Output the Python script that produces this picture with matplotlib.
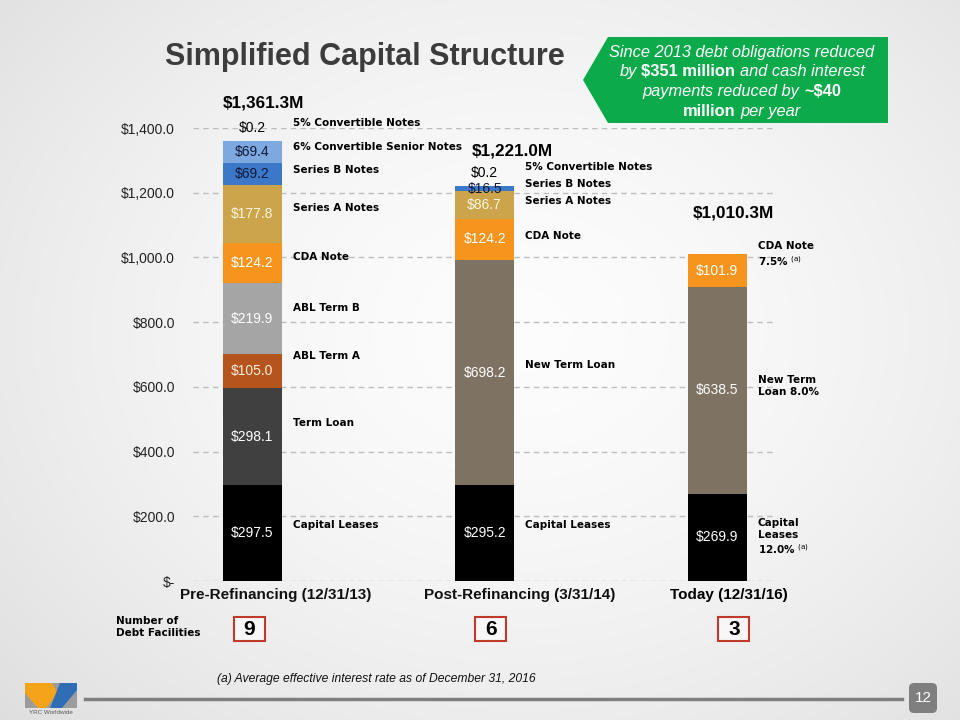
import numpy as np
import matplotlib
matplotlib.use("Agg")
import matplotlib.pyplot as plt
from matplotlib.patches import Polygon, FancyBboxPatch, Rectangle
from matplotlib.transforms import Affine2D

# ---------------- data ----------------
periods = ["Pre-Refinancing (12/31/13)", "Post-Refinancing (3/31/14)", "Today (12/31/16)"]
totals_text = ["$1,361.3M", "$1,221.0M", "$1,010.3M"]
facilities = ["9", "6", "3"]

segments = ["Capital Leases", "Term Loan", "ABL Term A", "ABL Term B", "New Term Loan",
            "CDA Note", "Series A Notes", "Series B Notes", "6% Convertible Senior Notes",
            "5% Convertible Notes"]
pre_values = [297.5, 298.1, 105.0, 219.9, 0.0, 124.2, 177.8, 69.2, 69.4, 0.2]
post_values = [295.2, 0.0, 0.0, 0.0, 698.2, 124.2, 86.7, 16.5, 0.0, 0.2]
today_values = [269.9, 0.0, 0.0, 0.0, 638.5, 101.9, 0.0, 0.0, 0.0, 0.0]

seg_colors = ["#000000", "#404040", "#B5541C", "#A5A5A5", "#7E7263",
              "#F7941E", "#CBA44B", "#3B78C8", "#7EA9E0", "#4472C4"]
label_colors = ["white", "white", "#FFF1E0", "white", "white",
                "white", "#FFF6DF", "#10183A", "#10183A", "black"]

side_labels_pre = ["5% Convertible Notes", "6% Convertible Senior Notes", "Series B Notes",
                   "Series A Notes", "CDA Note", "ABL Term B", "ABL Term A", "Term Loan",
                   "Capital Leases"]
side_labels_post = ["5% Convertible Notes", "Series B Notes", "Series A Notes", "CDA Note",
                    "New Term Loan", "Capital Leases"]
side_labels_today = ["CDA Note\n7.5% $^{\\mathrm{(a)}}$", "New Term\nLoan 8.0%",
                     "Capital\nLeases\n12.0% $^{\\mathrm{(a)}}$"]

yticks = [0, 200, 400, 600, 800, 1000, 1200, 1400]
ytick_labels = ["$-", "$200.0", "$400.0", "$600.0", "$800.0", "$1,000.0", "$1,200.0", "$1,400.0"]

# ---------------- layout (positions only) ----------------
side_y_pre = [1416, 1342, 1270, 1153, 1001, 844, 695, 488, 173]
side_y_post = [1280, 1227, 1175, 1066, 668, 173]
side_y_today = [1008, 603, 136]
total_dx = [0.047, 0.118, 0.068]
total_dy = [117, 108, 128]
cat_dx = [0.103, 0.152, 0.051]
fac_dx = [-0.013, 0.027, 0.072]

W, H = 960, 720
ARIAL = ["Liberation Sans", "DejaVu Sans"]
HEAVY = ["DejaVu Sans"]

fig = plt.figure(figsize=(9.6, 7.2), dpi=100)
px = Affine2D().scale(1 / W, -1 / H).translate(0, 1) + fig.transFigure

# background gradient
bg = fig.add_axes([0, 0, 1, 1], zorder=-10)
yy, xx = np.mgrid[0:H, 0:W]
d = np.sqrt(((xx - 520) / 640.0) ** 2 + ((yy - 330) / 520.0) ** 2)
shade = 0.99 - 0.10 * np.clip(d, 0, 1.3) ** 1.6
bg.imshow(np.dstack([shade] * 3), extent=[0, 1, 0, 1], aspect="auto", interpolation="bilinear")
bg.set_axis_off()

ax = fig.add_axes([193 / W, 1 - 581 / H, 580 / W, 453 / H])
ax.set_facecolor("none")
ax.set_xlim(-0.254, 2.24)
ax.set_ylim(0, 1400)
for s in ax.spines.values():
    s.set_visible(False)
ax.set_yticks(yticks)
ax.set_yticklabels(ytick_labels, family=ARIAL, fontsize=10, color="#222222")
ax.tick_params(axis="y", length=0, pad=13)
ax.set_xticks([])
ax.yaxis.grid(True, color="#BDBDBD", linestyle=(0, (4, 3)), linewidth=1.0)
ax.set_axisbelow(True)

all_values = [pre_values, post_values, today_values]
xs = np.arange(len(periods))
width = 0.254
for i, vals in enumerate(all_values):
    bottom = 0.0
    for j, v in enumerate(vals):
        if v <= 0:
            continue
        ax.bar(xs[i], v, width=width, bottom=bottom, color=seg_colors[j], zorder=3,
               edgecolor="none")
        lab = "$%.1f" % v
        if v < 5:
            ax.annotate(lab, (xs[i], bottom + v), xytext=(0, 4), textcoords="offset points",
                        ha="center", va="bottom", fontsize=10, family=ARIAL, color="black",
                        zorder=5)
        else:
            ax.text(xs[i], bottom + v / 2, lab, ha="center", va="center", fontsize=10,
                    family=ARIAL, color=label_colors[j], zorder=5)
        bottom += v
    ax.text(xs[i] + total_dx[i], sum(vals) + total_dy[i], totals_text[i], ha="center",
            va="center", fontsize=12.3, fontweight="bold", family=ARIAL, color="black")
    ax.text(xs[i] + cat_dx[i], -0.031, periods[i], transform=ax.get_xaxis_transform(),
            ha="center", va="center", fontsize=11, fontweight="bold", family=ARIAL,
            color="#111111" if i < 2 else "black")

fig.canvas.draw()
for i in range(len(periods)):
    cx = ax.transData.transform((xs[i] + fac_dx[i], 0))[0]
    fig.patches.append(Rectangle((cx - 15.5, 617), 31, 24, transform=px, facecolor="#F7F7F7",
                                 edgecolor="#C0392B", linewidth=1.5, zorder=2))
    fig.text(cx, 629.5, facilities[i], transform=px, ha="center", va="center", fontsize=15,
             fontweight="bold", family=ARIAL, color="black", zorder=3)

for i, (labs, ys) in enumerate([(side_labels_pre, side_y_pre), (side_labels_post, side_y_post),
                                (side_labels_today, side_y_today)]):
    for lab, y in zip(labs, ys):
        ax.text(xs[i] + 0.175, y, lab, ha="left", va="center", fontsize=7.5,
                fontweight="bold", family=HEAVY, color="black", linespacing=1.25, zorder=6)

# title
fig.text(365, 57, "Simplified Capital Structure", transform=px, ha="center", va="center",
         fontsize=22, fontweight="bold", family=ARIAL, color="#3C3C3C")

# green callout
callout = Polygon([(608, 37), (888, 37), (888, 123), (608, 123), (583, 80)], closed=True,
                  transform=px, facecolor="#0DAA4B", edgecolor="none", zorder=2)
fig.patches.append(callout)

renderer = fig.canvas.get_renderer()


def measure(s, weight, style, size):
    t = fig.text(0, 0, s, fontsize=size, fontweight=weight, fontstyle=style, family=ARIAL)
    w = t.get_window_extent(renderer).width
    t.remove()
    return w


def rich_line(xc, yc, runs, size, color):
    sp = measure("a a", "normal", "italic", size) - measure("aa", "normal", "italic", size)
    items = []
    for s, kind in runs:
        weight = "bold" if kind == "b" else "normal"
        style = "normal" if kind == "b" else "italic"
        t = fig.text(0, 0, s, transform=px, fontsize=size, fontweight=weight, fontstyle=style,
                     family=ARIAL, color=color, ha="left", va="center", zorder=3)
        items.append(t)
    widths = [t.get_window_extent(renderer).width for t in items]
    total = sum(widths) + sp * (len(items) - 1)
    x = xc - total / 2
    for t, wd in zip(items, widths):
        t.set_position((x, yc))
        x += wd + sp


callout_lines = [
    [("Since 2013 debt obligations reduced", "i")],
    [("by", "i"), ("$351 million", "b"), ("and cash interest", "i")],
    [("payments reduced by", "i"), ("~$40", "b")],
    [("million", "b"), ("per year", "i")],
]
for k, runs in enumerate(callout_lines):
    rich_line(742, 52 + k * 19.8, runs, 11.8, "white")

# number of debt facilities label
fig.text(116, 627, "Number of\nDebt Facilities", transform=px, ha="left", va="center",
         fontsize=7.5, fontweight="bold", family=HEAVY, color="black", linespacing=1.2)

# footnote
fig.text(217, 679, "(a) Average effective interest rate as of December 31, 2016", transform=px,
         ha="left", va="center", fontsize=8.7, fontstyle="italic", family=ARIAL, color="#111111")

# bottom rule & page number
fig.lines.append(plt.Line2D([85, 902], [699, 699], transform=px, color="#7F7F7F", linewidth=2.5))
pbox = FancyBboxPatch((909, 683), 28, 30, boxstyle="round,pad=0,rounding_size=5", transform=px,
                      facecolor="#7F7F7F", edgecolor="none")
fig.patches.append(pbox)
fig.text(923, 698, "12", transform=px, ha="center", va="center", fontsize=11, color="white",
         family=ARIAL)

# logo (approximation)
fig.patches.append(Rectangle((25, 683), 52, 25, transform=px, facecolor="#9C9C9C",
                             edgecolor="none"))
fig.patches.append(Polygon([(25, 683), (52, 683), (58, 693), (46, 708), (38, 708), (25, 693)],
                           closed=True, transform=px, facecolor="#F6A31C", edgecolor="none"))
fig.patches.append(Polygon([(60, 683), (77, 683), (77, 690), (62, 708), (50, 708)], closed=True,
                           transform=px, facecolor="#2F6DB5", edgecolor="none"))
fig.text(51, 713, "YRC Worldwide", transform=px, ha="center", va="center", fontsize=4.5,
         color="#555555", family=ARIAL)

fig.savefig("out.png", dpi=100)
